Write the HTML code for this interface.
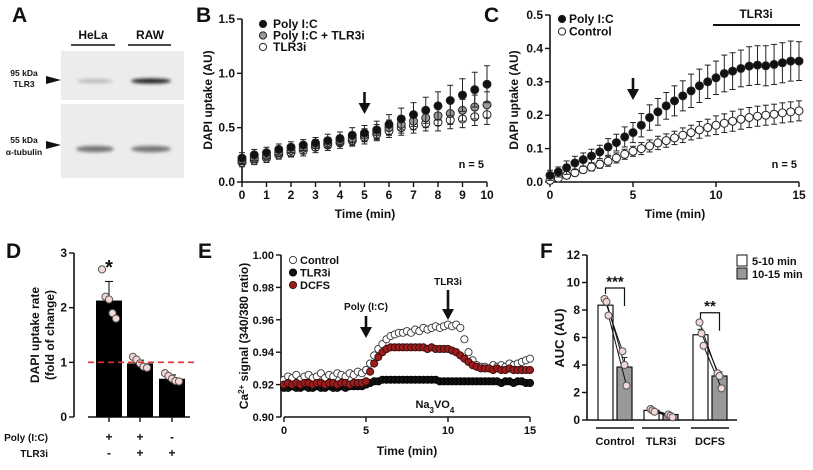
<!DOCTYPE html>
<html><head><meta charset="utf-8"><style>
html,body{margin:0;padding:0;background:#fff}
svg{display:block;font-family:"Liberation Sans",Arial,sans-serif}
text{font-weight:bold;fill:#111}
</style></head><body>
<svg id="fig" width="813" height="470" viewBox="0 0 813 470" xmlns="http://www.w3.org/2000/svg">
<defs><filter id="bl" x="-20%" y="-200%" width="140%" height="500%"><feGaussianBlur stdDeviation="1.6"/></filter></defs>
<text x="12" y="22" font-size="21">A</text>
<text x="196" y="22" font-size="21">B</text>
<text x="484" y="22" font-size="21">C</text>
<text x="6" y="258" font-size="21">D</text>
<text x="198" y="258" font-size="21">E</text>
<text x="540" y="258" font-size="21">F</text>
<g>
<text x="93" y="39" font-size="12" text-anchor="middle">HeLa</text>
<text x="150" y="39" font-size="12" text-anchor="middle">RAW</text>
<line x1="71" y1="45" x2="115" y2="45" stroke="#111" stroke-width="1.5"/>
<line x1="128" y1="45" x2="171" y2="45" stroke="#111" stroke-width="1.5"/>
<rect x="61" y="51" width="123" height="49" fill="#ececec"/>
<rect x="61" y="104" width="123" height="74" fill="#ececec"/>
<ellipse cx="95" cy="81" rx="18" ry="2" fill="#b8b8b8" filter="url(#bl)"/>
<ellipse cx="151" cy="81" rx="20" ry="2.6" fill="#222" filter="url(#bl)"/>
<ellipse cx="95" cy="149" rx="19" ry="3.3" fill="#777" filter="url(#bl)"/>
<ellipse cx="151" cy="149" rx="20" ry="3.3" fill="#777" filter="url(#bl)"/>
<text x="24" y="76" font-size="8.5" text-anchor="middle">95 kDa</text>
<text x="24" y="87" font-size="8.5" text-anchor="middle">TLR3</text>
<text x="24" y="143" font-size="8.5" text-anchor="middle">55 kDa</text>
<text x="24" y="155" font-size="8.5" text-anchor="middle">α-tubulin</text>
<polygon points="46,76 61,80 46,84" fill="#111"/>
<polygon points="46,141 61,145 46,149" fill="#111"/>
</g>
<g id="plots"></g>
</svg>
<script>
// ---------- Data ----------
const bTime = [0,0.5,1,1.5,2,2.5,3,3.5,4,4.5,5,5.5,6,6.5,7,7.5,8,8.5,9,9.5,10];
const bPoly = [.22,.25,.27,.30,.32,.34,.36,.38,.40,.43,.45,.48,.53,.58,.62,.66,.70,.75,.80,.85,.90];
const bPolyErr = [.05,.05,.05,.05,.05,.05,.05,.06,.06,.07,.07,.08,.09,.10,.11,.12,.13,.14,.15,.16,.17];
const bPolyTlr = [.20,.22,.24,.27,.29,.31,.34,.36,.38,.40,.43,.46,.50,.53,.56,.59,.61,.63,.66,.69,.71];
const bPolyTlrErr = [.04,.04,.04,.04,.05,.05,.05,.05,.05,.06,.06,.07,.07,.08,.08,.09,.09,.10,.10,.11,.12];
const bTlr = [.18,.20,.22,.25,.27,.29,.32,.34,.36,.38,.41,.44,.47,.50,.52,.54,.55,.57,.58,.60,.62];
const bTlrErr = [.04,.04,.04,.04,.04,.05,.05,.05,.05,.05,.06,.06,.06,.07,.07,.07,.08,.08,.08,.08,.09];

const cTime = [0,0.5,1,1.5,2,2.5,3,3.5,4,4.5,5,5.5,6,6.5,7,7.5,8,8.5,9,9.5,10,10.5,11,11.5,12,12.5,13,13.5,14,14.5,15];
const cPoly = [.02,.03,.043,.057,.067,.078,.09,.105,.118,.135,.148,.17,.193,.21,.228,.243,.258,.273,.288,.30,.312,.325,.332,.34,.347,.35,.348,.352,.357,.362,.362];
const cPolyErr = [.015,.015,.02,.02,.02,.02,.02,.025,.025,.03,.03,.035,.038,.04,.04,.045,.045,.05,.05,.05,.05,.055,.055,.055,.058,.058,.06,.06,.06,.06,.058];
const cCtrl = [.005,.012,.02,.028,.037,.045,.053,.062,.072,.083,.092,.10,.108,.117,.124,.132,.14,.148,.156,.163,.17,.176,.182,.188,.193,.197,.20,.203,.207,.21,.213];
const cCtrlErr = [.01,.01,.01,.01,.01,.012,.012,.015,.015,.015,.015,.018,.018,.02,.02,.02,.022,.022,.025,.025,.028,.028,.03,.03,.03,.03,.03,.03,.03,.03,.03];

const dGroups = ['poly-ic','poly-ic-tlr3i','tlr3i'];
const dMeans = [2.13,0.98,0.70];
const dErr = [0.35,0.06,0.07];
const dPoints = [[2.7,2.2,2.15,1.9,1.8],[1.1,1.05,0.98,0.92,0.9],[0.8,0.75,0.7,0.66,0.65]];
const dPolyRow = ['+','+','-'];
const dTlrRow = ['-','+','+'];

const eStep = 0.25;
const eControl = [.923,.925,.924,.926,.923,.925,.926,.924,.925,.927,.924,.926,.925,.927,.926,.925,.927,.926,.928,.927,.929,
 .933,.938,.942,.945,.948,.950,.951,.952,
 .952,.953,.952,.954,.953,.955,.954,.955,.956,.955,.956,.957,.956,.957,.955,
 .948,.940,.935,.932,.931,
 .931,.930,.932,.931,.932,.931,.933,.932,.933,.934,.935,.936];
const eDcfs = [.920,.921,.920,.921,.920,.921,.921,.920,.921,.921,.920,.921,.921,.920,.921,.921,.920,.921,.921,.921,.922,
 .928,.933,.937,.940,.942,.943,.943,.943,
 .943,.943,.943,.943,.943,.943,.942,.943,.942,.942,.942,.942,.941,.940,.938,
 .936,.934,.932,.931,.930,
 .930,.930,.929,.930,.929,.929,.930,.929,.929,.929,.929,.929];
const eTlr = [.918,.918,.919,.918,.918,.919,.918,.918,.919,.918,.918,.919,.918,.918,.919,.918,.919,.919,.919,.919,.920,
 .921,.922,.922,.923,.923,.923,.923,.923,
 .923,.923,.923,.923,.923,.923,.923,.923,.923,.922,.922,.922,.922,.922,.922,
 .922,.922,.922,.922,.922,
 .922,.922,.922,.922,.921,.922,.922,.921,.922,.922,.921,.921];

const fGroups = ['Control','TLR3i','DCFS'];
const fEarly = [8.35,0.7,6.2];
const fLate = [3.85,0.4,3.2];
const fEarlyErr = [0.35,0.08,0.4];
const fLateErr = [0.7,0.08,0.3];
const fEarlyPts = [[8.8,8.6,7.6],[0.8,0.7,0.6],[7.1,6.3,5.4]];
const fLatePts = [[5.0,4.0,2.5],[0.4,0.3,0.2],[3.4,3.2,2.3]];

// ---------- helpers ----------
const NS='http://www.w3.org/2000/svg';
const root=document.getElementById('plots');
function mk(tag,attrs,parent){const e=document.createElementNS(NS,tag);for(const k in attrs)e.setAttribute(k,attrs[k]);(parent||root).appendChild(e);return e;}
function lin(d0,d1,r0,r1){return v=>r0+(v-d0)*(r1-r0)/(d1-d0);}
function txt(x,y,s,size,anchor,parent){const t=mk('text',{x:x,y:y,'font-size':size,'text-anchor':anchor||'middle'},parent);t.textContent=s;return t;}
function yAxis(x,sc,ticks,labels,lo,hi,size){
  const l=mk('line',{x1:x,x2:x,y1:sc(lo),y2:sc(hi),stroke:'#111','stroke-width':1.6});
  
  
  ticks.forEach((t,i)=>{
    const tk=mk('line',{x1:x-5,x2:x,y1:sc(t),y2:sc(t),stroke:'#111','stroke-width':1.4});
    
    
    const tl=txt(x-7,sc(t)+4,labels[i],size||11,'end');
    
    
  });
}
function xAxis(y,sc,ticks,labels,lo,hi,size){
  const l=mk('line',{x1:sc(lo),x2:sc(hi),y1:y,y2:y,stroke:'#111','stroke-width':1.6});
  
  
  ticks.forEach((t,i)=>{
    const tk=mk('line',{x1:sc(t),x2:sc(t),y1:y,y2:y+5,stroke:'#111','stroke-width':1.4});
    
    
    if(labels[i]!==''){
      const tl=txt(sc(t),y+17,labels[i],size||11,'middle');
      
      
    }
  });
}
function ytitle(x,y,s,size){const t=mk('text',{x:0,y:0,'font-size':size,'text-anchor':'middle',transform:`translate(${x},${y}) rotate(-90)`});t.textContent=s;return t;}
function errbar(x,y0,y1,w){
  const g=mk('g',{stroke:'#222','stroke-width':1});
  mk('line',{x1:x,x2:x,y1:y0,y2:y1},g);
  mk('line',{x1:x-w,x2:x+w,y1:y0,y2:y0},g);
  mk('line',{x1:x-w,x2:x+w,y1:y1,y2:y1},g);
  return g;
}
function arrow(x,y0,y1){
  const g=mk('g',{});
  mk('line',{x1:x,x2:x,y1:y0,y2:y1-9,stroke:'#111','stroke-width':2.6},g);
  mk('polygon',{points:`${x-6},${y1-11} ${x+6},${y1-11} ${x},${y1}`,fill:'#111'},g);
  return g;
}

// ---------- Panel B ----------
{
const sx=lin(0,10,242,487), sy=lin(0,1.5,182,19);
yAxis(242,sy,[0,0.5,1,1.5],['0.0','0.5','1.0','1.5'],0,1.5,12);
xAxis(182,sx,[0,1,2,3,4,5,6,7,8,9,10],['0','1','2','3','4','5','6','7','8','9','10'],0,10,12);
const ti=txt(365,218,'Time (min)',12);


const yt=ytitle(212,100,'DAPI uptake (AU)',12);


const series=[[bTlr,bTlrErr,'#fff','b-tlr3i'],[bPolyTlr,bPolyTlrErr,'#999','b-poly-ic-tlr3i'],[bPoly,bPolyErr,'#111','b-poly-ic']];
series.forEach(s=>{
  bTime.forEach((t,i)=>{
    const e=errbar(sx(t),sy(s[0][i]+s[1][i]),sy(s[0][i]-s[1][i]),3);
    
    
  });
  bTime.forEach((t,i)=>{
    const c=mk('circle',{cx:sx(t),cy:sy(s[0][i]),r:4,fill:s[2],stroke:'#222','stroke-width':1});
    
    
  });
});
const ar=arrow(sx(5),92,114);


const n=txt(484,168,'n = 5',11,'end');


[['#111','Poly I:C'],['#999','Poly I:C + TLR3i'],['#fff','TLR3i']].forEach((L,i)=>{
  const c=mk('circle',{cx:263,cy:24+i*11.5,r:3.6,fill:L[0],stroke:'#222','stroke-width':1});
  
  
  const t=txt(273,28+i*11.5,L[1],12,'start');
  
  
});
}

// ---------- Panel C ----------
{
const sx=lin(0,15,550,799), sy=lin(0,0.5,182,15);
yAxis(550,sy,[0,0.1,0.2,0.3,0.4,0.5],['0.0','0.1','0.2','0.3','0.4','0.5'],0,0.5,12);
xAxis(182,sx,[0,5,10,15],['0','5','10','15'],0,15,12);
const ti=txt(675,218,'Time (min)',12);


const yt=ytitle(518,100,'DAPI uptake (AU)',12);


[[cCtrl,cCtrlErr,'#fff','c-control'],[cPoly,cPolyErr,'#111','c-poly-ic']].forEach(s=>{
  cTime.forEach((t,i)=>{
    const e=errbar(sx(t),sy(s[0][i]+s[1][i]),sy(s[0][i]-s[1][i]),3);
    
    
  });
  cTime.forEach((t,i)=>{
    const c=mk('circle',{cx:sx(t),cy:sy(s[0][i]),r:4,fill:s[2],stroke:'#222','stroke-width':1});
    
    
  });
});
const ar=arrow(sx(5),78,100);


const bar=mk('line',{x1:713,x2:800,y1:25,y2:25,stroke:'#111','stroke-width':2});


const bl=txt(756,18,'TLR3i',12);


const n=txt(797,168,'n = 5',11,'end');


[['#111','Poly I:C'],['#fff','Control']].forEach((L,i)=>{
  const c=mk('circle',{cx:562,cy:19+i*12.5,r:3.6,fill:L[0],stroke:'#222','stroke-width':1});
  
  
  const t=txt(569,23+i*12.5,L[1],12,'start');
  
  
});
}

// ---------- Panel D ----------
{
const sy=lin(0,3,417,253);
const cx=[109,140,172];
yAxis(74,sy,[0,1,2,3],['0','1','2','3'],0,3,12);
const xl=mk('line',{x1:88,x2:190,y1:417,y2:417,stroke:'#111','stroke-width':1.6});


dMeans.forEach((m,i)=>{
  const b=mk('rect',{x:cx[i]-13,y:sy(m),width:26,height:sy(0)-sy(m),fill:'#000'});
  
  
  const e=mk('line',{x1:cx[i],x2:cx[i],y1:sy(m),y2:sy(m+dErr[i]),stroke:'#000','stroke-width':1});
  
  
  const e2=mk('line',{x1:cx[i]-4,x2:cx[i]+4,y1:sy(m+dErr[i]),y2:sy(m+dErr[i]),stroke:'#000','stroke-width':1});
  
  
  const tk=mk('line',{x1:cx[i],x2:cx[i],y1:417,y2:422,stroke:'#111','stroke-width':1.4});
  
  
  dPoints[i].forEach((p,j)=>{
    const c=mk('circle',{cx:cx[i]-7+j*3.5,cy:sy(p),r:3.6,fill:'#f3d6d6',stroke:'#555','stroke-width':1});
    
    
  });
  const r1=txt(cx[i],441,dPolyRow[i],12);
  
  
  const r2=txt(cx[i],457,dTlrRow[i],12);
  
  
});
const ref=mk('line',{x1:88,x2:195,y1:sy(1),y2:sy(1),stroke:'#e03030','stroke-width':1.6,'stroke-dasharray':'6,4'});


const st=txt(109,274,'*',20);


const a=txt(48,441,'Poly (I:C)',10,'end');


const b=txt(48,457,'TLR3i',10,'end');


const y1=ytitle(39,335,'DAPI uptake rate',12);


const y2=ytitle(54,335,'(fold of change)',12);


}

// ---------- Panel E ----------
{
const sx=lin(0,15,284,530), sy=lin(0.90,1.00,417,255);
yAxis(281,sy,[0.90,0.92,0.94,0.96,0.98,1.00],['0.90','0.92','0.94','0.96','0.98','1.00'],0.90,1.00,11);
xAxis(417,sx,[0,5,10,15],['0','5','10','15'],0,15,11);
const ti=txt(407,455,'Time (min)',12);


const yt=mk('text',{x:0,y:0,'font-size':12,'text-anchor':'middle',transform:'translate(248,336) rotate(-90)'});
yt.innerHTML='Ca<tspan baseline-shift="super" font-size="8">2+</tspan> signal (340/380 ratio)';


[[eTlr,'#111','#000','e-tlr3i'],[eControl,'#fff','#333','e-control'],[eDcfs,'#9b1c1c','#3a0a0a','e-dcfs']].forEach(s=>{
  s[0].forEach((v,i)=>{
    const c=mk('circle',{cx:sx(i*eStep),cy:sy(v),r:3.6,fill:s[1],stroke:s[2],'stroke-width':0.9});
    
    
  });
});
const a1=arrow(sx(5),316,338);


const t1=txt(sx(5),310,'Poly (I:C)',10);


const a2=arrow(sx(10),290,320);


const t2=txt(sx(10),285,'TLR3i',10);


const na=mk('text',{x:sx(9.2),y:408,'font-size':11,'text-anchor':'middle'});
na.innerHTML='Na<tspan baseline-shift="sub" font-size="8">3</tspan>VO<tspan baseline-shift="sub" font-size="8">4</tspan>';


[['#fff','#333','Control'],['#111','#000','TLR3i'],['#9b1c1c','#3a0a0a','DCFS']].forEach((L,i)=>{
  const c=mk('circle',{cx:293,cy:260+i*12.5,r:3.6,fill:L[0],stroke:L[1],'stroke-width':0.9});
  
  
  const t=txt(300,264+i*12.5,L[2],11,'start');
  
  
});
}

// ---------- Panel F ----------
{
const sy=lin(0,12,420,255);
const gx=[615,661,710];
const bw=15, gap=2;
yAxis(587,sy,[0,2,4,6,8,10,12],['0','2','4','6','8','10','12'],0,12,12);
const xl=mk('line',{x1:587,x2:737,y1:420,y2:420,stroke:'#111','stroke-width':1.6});


const yt=ytitle(564,338,'AUC (AU)',13);


fGroups.forEach((g,i)=>{
  const wx=gx[i]-gap-bw, kx=gx[i]+gap;
  const w=mk('rect',{x:wx,y:sy(fEarly[i]),width:bw,height:sy(0)-sy(fEarly[i]),fill:'#fff',stroke:'#111','stroke-width':1.2});
  
  
  const k=mk('rect',{x:kx,y:sy(fLate[i]),width:bw,height:sy(0)-sy(fLate[i]),fill:'#999',stroke:'#111','stroke-width':1.2});
  
  
  const e1=errbar(wx+bw/2,sy(fEarly[i]+fEarlyErr[i]),sy(fEarly[i]),3);
  
  
  const e2=errbar(kx+bw/2,sy(fLate[i]+fLateErr[i]),sy(fLate[i]),3);
  
  
  fEarlyPts[i].forEach((p,j)=>{
    const ln=mk('line',{x1:wx+bw/2-1+j*2,y1:sy(p),x2:kx+bw/2-2+j*2,y2:sy(fLatePts[i][j]),stroke:'#111','stroke-width':1});
    
    
  });
  fEarlyPts[i].forEach((p,j)=>{
    const c=mk('circle',{cx:wx+bw/2-1+j*2,cy:sy(p),r:3.5,fill:'#f3d6d6',stroke:'#555','stroke-width':1});
    
    
    const c2=mk('circle',{cx:kx+bw/2-2+j*2,cy:sy(fLatePts[i][j]),r:3.5,fill:'#f3d6d6',stroke:'#555','stroke-width':1});
    
    
  });
  const ul=mk('line',{x1:gx[i]-19,x2:gx[i]+19,y1:428,y2:428,stroke:'#111','stroke-width':1.6});
  
  
  const gl=txt(gx[i],445,g,11);
  
  
});
[[0,9.6,'***',10.3],[2,7.8,'**',8.5]].forEach(s=>{
  const x=gx[s[0]];
  const x0=x-gap-bw/2, x1=x+gap+bw/2;
  const br=mk('path',{d:`M${x0},${sy(s[1])+6} V${sy(s[1])} H${x1} V${sy(s[1])+18}`,fill:'none',stroke:'#111','stroke-width':1.2});
  
  
  const st=txt(x,sy(s[3])+8,s[2],15);
  
  
});
[['#fff','5-10 min'],['#999','10-15 min']].forEach((L,i)=>{
  const r=mk('rect',{x:737,y:255+i*13,width:10,height:11,fill:L[0],stroke:'#111','stroke-width':1});
  
  
  const t=txt(752,265+i*13,L[1],11,'start');
  
  
});
}
</script>
</body></html>
